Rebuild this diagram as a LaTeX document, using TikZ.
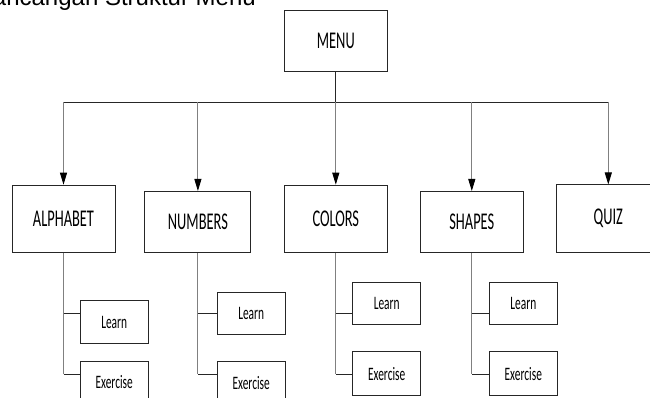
\documentclass[tikz,border=0pt]{standalone}
\usepackage{fontspec}
\usepackage{tikz}
\usetikzlibrary{arrows, arrows.meta, calc, positioning}
\newfontfamily\boxfont[FakeStretch=0.6]{Carlito}
\newfontfamily\titlefont{Liberation Sans}

\begin{document}
\begin{tikzpicture}[x=1pt,y=-1pt,>={Triangle[length=12pt,width=7pt,color=black]},
		menubox/.style={draw=black!85, line width=1pt, inner sep=0pt, minimum width=103pt,
			font=\boxfont\fontsize{24}{26}\selectfont},
		subbox/.style={draw=black!85, line width=1pt, inner sep=0pt, minimum width=68pt, minimum height=43pt,
			font=\boxfont\fontsize{19}{21}\selectfont},
		trunk/.style={draw=black!50, line width=0.9pt},
		branch/.style={draw=black!85, line width=0.9pt}]
			\useasboundingbox (0,0) rectangle (650,398);
			\clip (0,0) rectangle (650,398);
			% title, cut at the top edge
			\node[anchor=base east, inner sep=0pt, font=\titlefont\fontsize{24}{26}\selectfont] (title) at (256,6) {Perancangan Struktur Menu};
			% main menu
			\node[menubox, minimum height=61pt] (menu) at (335.8,41.2) {MENU};
			\node[menubox, minimum height=67pt] (alphabet) at (63.5,218.7) {ALPHABET};
			\node[menubox, minimum height=61pt, minimum width=106pt] (numbers) at (197.9,222) {NUMBERS};
			\node[menubox, minimum height=67pt] (colors) at (335.8,218.7) {COLORS};
			\node[menubox, minimum height=61pt] (shapes) at (471.8,222) {SHAPES};
			\node[menubox, minimum height=67pt, minimum width=104pt] (quiz) at (608.3,218.5) {QUIZ};
			% sub menu
			\node[subbox] (alearn) at (114.2,322.3) {Learn};
			\node[subbox] (aex) at (114.2,382.5) {Exercise};
			\node[subbox, minimum height=42pt] (nlearn) at (251.2,313.5) {Learn};
			\node[subbox] (nex) at (251.2,383) {Exercise};
			\node[subbox, minimum height=42pt] (clearn) at (386.7,303.8) {Learn};
			\node[subbox, minimum height=44pt] (cex) at (386.7,373.8) {Exercise};
			\node[subbox, minimum height=42pt] (slearn) at (523.3,303.8) {Learn};
			\node[subbox, minimum height=44pt] (sex) at (523.3,373.8) {Exercise};
			\coordinate (bus) at (0,102);
			\coordinate (row1) at (0,313.5);
			\coordinate (row2) at (0,374);
			% menu to items
			\draw[branch] (menu) -- (menu |- bus);
			\draw[branch] (alphabet.north |- bus) -- (quiz.north |- bus);
			\foreach \item in {alphabet, numbers, colors, shapes, quiz}
				\draw[trunk, ->] (\item.north |- bus) -- (\item);
			% items to learn / exercise
			\foreach \item/\lrn/\ex in {alphabet/alearn/aex, numbers/nlearn/nex, colors/clearn/cex, shapes/slearn/sex} {
				\draw[trunk] (\item) -- (\item |- row2);
				\draw[branch] (\item |- row1) -- (\lrn.west |- row1);
				\draw[branch] (\item |- row2) -- (\ex.west |- row2);
			}
		\end{tikzpicture}
\end{document}
